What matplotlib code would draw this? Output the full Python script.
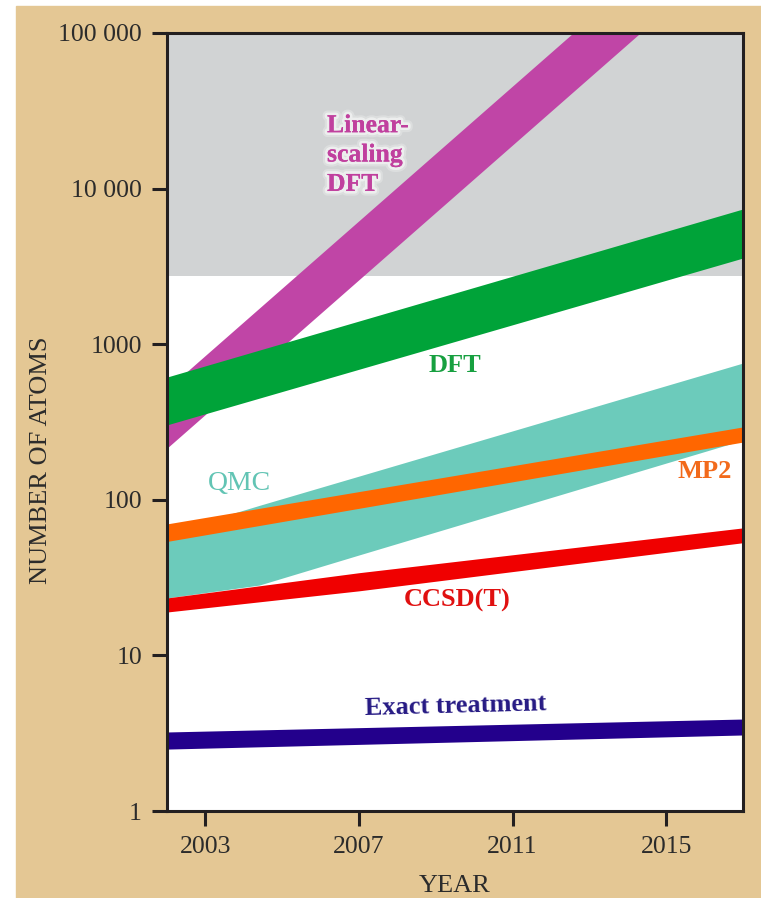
import numpy as np
import matplotlib
matplotlib.use('Agg')
import matplotlib.pyplot as plt
import matplotlib.patheffects as pe
from matplotlib.patches import Rectangle

# ── Dane ─────────────────────────────────────────────────────
YEARS = [2002, 2017]

lin_dft_low  = [215, 380000]
lin_dft_high = [515, 908000]

dft_low  = [303, 3580]
dft_high = [615, 7400]

qmc_years = [2002, 2004.4, 2007, 2017]
qmc_low   = [23.4, 28.3, 44.2, 242]
qmc_high  = [61, 92, 142, 757]

mp2_low  = [54, 235]
mp2_high = [70, 294]

ccsd_years = [2002, 2007, 2017]
ccsd_low   = [19.0, 26, 53]
ccsd_high  = [23.4, 34, 66]

exact_low  = [2.50, 3.08]
exact_high = [3.22, 3.90]

GREY_FROM = 2750   # granica szarego obszaru

y_ticks  = [1, 10, 100, 1000, 10000, 100000]
y_labels = ['1', '10', '100', '1000', '10 000', '100 000']
x_ticks  = [2003, 2007, 2011, 2015]

# ── Kolory ───────────────────────────────────────────────────
TAN     = '#e4c794'
GREY    = '#d1d3d4'
MAGENTA = '#c045a6'
GREEN   = '#00a339'
TEAL    = '#6ccbbb'
ORANGE  = '#ff6600'
RED     = '#f00000'
NAVY    = '#23008c'
AXCOL   = '#231f20'

plt.rcParams['font.family'] = ['Liberation Serif', 'DejaVu Serif']

fig = plt.figure(figsize=(7.61, 8.98), dpi=100)
fig.patch.set_facecolor('white')
fig.patches.append(Rectangle((16 / 761, 0), 1, (898 - 6) / 898,
                             transform=fig.transFigure, color=TAN, zorder=-10))

ax = fig.add_axes([167 / 761, 87 / 898, 576 / 761, 778 / 898])
ax.set_yscale('log')
ax.set_xlim(2002, 2017)
ax.set_ylim(1, 100000)
ax.set_facecolor('white')

ax.axhspan(GREY_FROM, 100000, color=GREY, lw=0, zorder=0)

ax.fill_between(YEARS, lin_dft_low, lin_dft_high, color=MAGENTA, lw=0, zorder=2)
ax.fill_between(YEARS, dft_low, dft_high, color=GREEN, lw=0, zorder=3)
ax.fill_between(qmc_years, qmc_low, qmc_high, color=TEAL, lw=0, zorder=3)
ax.fill_between(YEARS, mp2_low, mp2_high, color=ORANGE, lw=0, zorder=4)
ax.fill_between(ccsd_years, ccsd_low, ccsd_high, color=RED, lw=0, zorder=4)
ax.fill_between(YEARS, exact_low, exact_high, color=NAVY, lw=0, zorder=4)

# ── Etykiety serii ───────────────────────────────────────────
# miękka poświata: kilka obrysów o rosnącej szerokości
glow = [pe.withStroke(linewidth=7, foreground='white', alpha=0.25),
        pe.withStroke(linewidth=4, foreground='white', alpha=0.5),
        pe.Normal()]


def px(x, y):
    """piksele obrazka -> współrzędne figury"""
    return x / 761, 1 - y / 898


fig.text(*px(327, 155), 'Linear-\nscaling\nDFT', ha='left', va='center',
         color='#c0409e', fontsize=18.5, fontweight='bold',
         linespacing=1.35, path_effects=glow, zorder=10)
fig.text(*px(455, 366), 'DFT', ha='center', va='center', color='#17a040',
         fontsize=19, fontweight='bold')
fig.text(*px(239, 484), 'QMC', ha='center', va='center', color='#62c4b4',
         fontsize=20)
fig.text(*px(705, 471), 'MP2', ha='center', va='center', color='#f26a1b',
         fontsize=19, fontweight='bold')
fig.text(*px(457, 600), 'CCSD(T)', ha='center', va='center', color='#e01010',
         fontsize=19, fontweight='bold')
fig.text(*px(456, 706), 'Exact treatment', ha='center', va='center',
         color='#261a84', fontsize=19, fontweight='bold', rotation=1.5)

# ── Osie ─────────────────────────────────────────────────────
for s in ax.spines.values():
    s.set_color(AXCOL)
    s.set_linewidth(2.2)
    s.set_zorder(6)

ax.set_yticks(y_ticks)
ax.set_yticklabels(y_labels)
ax.yaxis.set_minor_locator(plt.NullLocator())
ax.set_xticks(x_ticks)
ax.set_xticklabels([str(x) for x in x_ticks])
ax.tick_params(axis='both', direction='out', length=11, width=2.2,
               color=AXCOL, labelcolor='#2b2b2b', labelsize=18.5, pad=7)

fig.text(*px(41, 460), 'NUMBER OF ATOMS', rotation=90, ha='center',
         va='center', fontsize=19, color='#2b2b2b')
fig.text(*px(455, 886), 'YEAR', ha='center', va='center', fontsize=19,
         color='#2b2b2b')

fig.savefig('out.png', dpi=100)
